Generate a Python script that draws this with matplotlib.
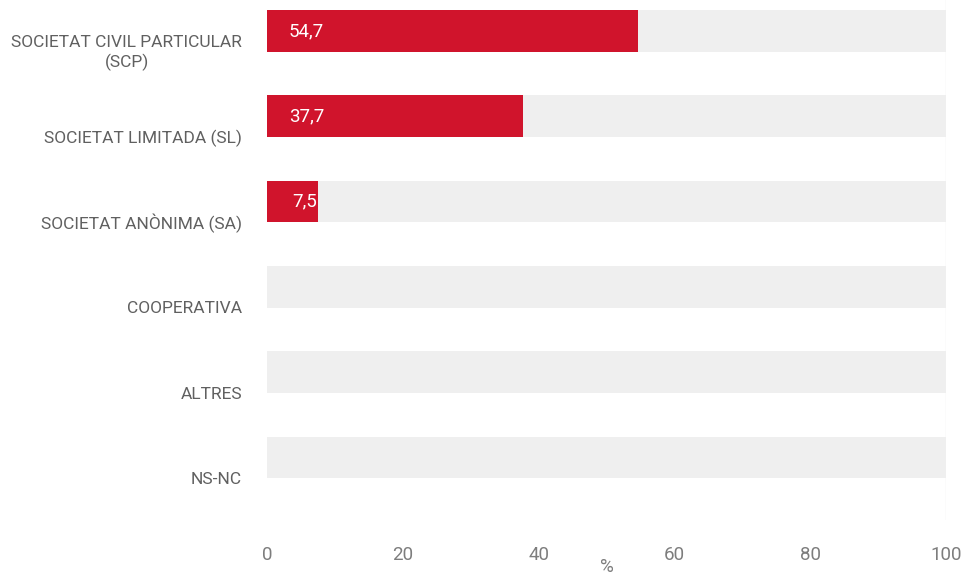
import matplotlib
matplotlib.use("Agg")
import matplotlib.pyplot as plt
import matplotlib.transforms as mtransforms

categories = [
    "SOCIETAT CIVIL PARTICULAR\n(SCP)",
    "SOCIETAT LIMITADA (SL)",
    "SOCIETAT ANÒNIMA (SA)",
    "COOPERATIVA",
    "ALTRES",
    "NS-NC",
]
values = [54.7, 37.7, 7.5, 0, 0, 0]
value_labels = ["54,7", "37,7", "7,5", "", "", ""]
x_ticks = [0, 20, 40, 60, 80, 100]
x_label = "%"

RED = "#D0142C"
TRACK = "#EFEFEF"
TEXT = "#606060"
TICK = "#7d7d7d"

plt.rcParams["font.family"] = ["Roboto", "DejaVu Sans"]

fig = plt.figure(figsize=(9.63, 5.77), dpi=100)
W, H = 963, 577
ax = fig.add_axes([267 / W, (H - 520) / H, (946 - 267) / W, 520 / H])

pos = list(range(len(categories)))
bar_h = 0.49
ax.barh(pos, [100] * len(pos), height=bar_h, color=TRACK, zorder=1)
ax.barh(pos, values, height=bar_h, color=RED, zorder=2)

for p, v, lab in zip(pos, values, value_labels):
    if not lab:
        continue
    if v > 12:
        ax.text(3.2, p, lab, ha="left", va="center", color="white",
                fontsize=13.5, zorder=3)
    else:
        ax.text(v - 0.15, p, lab, ha="right", va="center", color="white",
                fontsize=13.5, zorder=3)

ax.set_xlim(0, 100)
ax.set_ylim(5.733, -0.363)

ax.axvline(100, color="#eeeeee", lw=1, zorder=0)

for s in ax.spines.values():
    s.set_visible(False)

ax.set_yticks([])
ax.set_xticks(x_ticks)
ax.set_xticklabels([str(t) for t in x_ticks], color=TICK, fontsize=13.5)
ax.tick_params(axis="x", length=0, pad=19)

# category labels sit a little below each bar's centre
blend = mtransforms.blended_transform_factory(ax.transAxes, ax.transData)
lab_tr = mtransforms.offset_copy(blend, fig=fig, x=-25, y=-22, units="dots")
for p, c in zip(pos, categories):
    ax.text(0, p, c, transform=lab_tr, ha="right", va="center",
            multialignment="center", color=TEXT, fontsize=12.5,
            linespacing=1.3)

fig.text(607 / W, 1 - 567 / H, x_label, ha="center", va="center",
         color=TICK, fontsize=13.5)

fig.savefig("out.png", dpi=100)
